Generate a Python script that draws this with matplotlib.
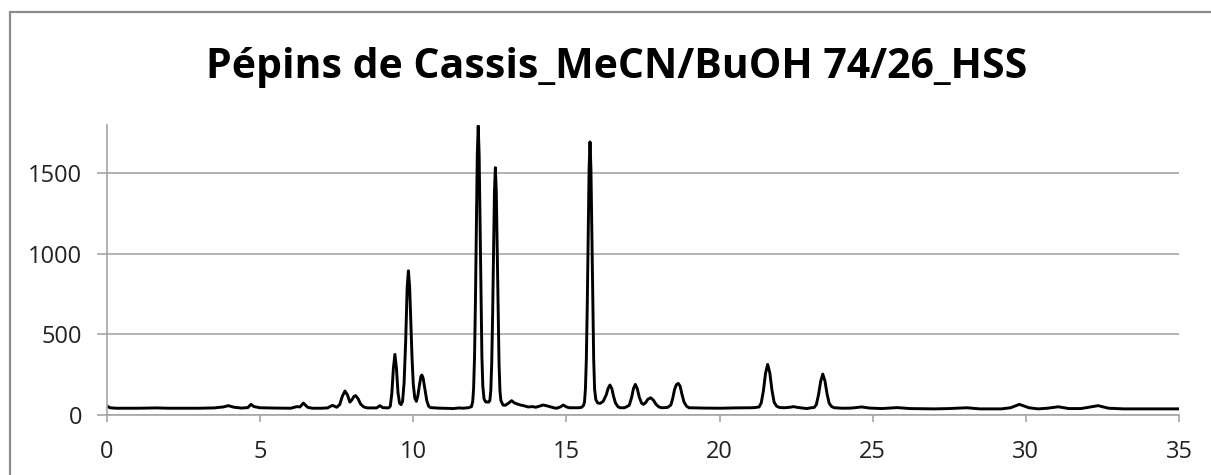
import matplotlib.pyplot as plt
from matplotlib.patches import Rectangle

temps = [0.0, 0.1, 0.3, 1.0, 1.6, 2.0, 3.0, 3.5, 3.8, 3.96, 4.15, 4.4, 4.6, 4.7, 4.8, 5.0,
         5.5, 6.0, 6.2, 6.3, 6.41, 6.55, 6.7, 7.0, 7.2, 7.36, 7.5,
         7.6, 7.68, 7.77, 7.85, 7.93, 8.0, 8.06, 8.12, 8.2, 8.28, 8.38, 8.5, 8.8, 8.91, 9.0, 9.15,
         9.2, 9.25, 9.3, 9.35, 9.4, 9.45, 9.5, 9.55, 9.6, 9.65, 9.7, 9.75, 9.8, 9.84, 9.88, 9.92,
         9.96, 10.0, 10.05, 10.1, 10.15, 10.2, 10.25, 10.28, 10.32, 10.38, 10.44, 10.5, 10.56,
         10.8, 11.0, 11.3, 11.5, 11.6, 11.8, 11.9, 11.94, 11.97, 12.0, 12.03, 12.06, 12.09, 12.12,
         12.15, 12.18, 12.21, 12.24, 12.27, 12.31, 12.36, 12.41, 12.46, 12.5, 12.53, 12.56, 12.59,
         12.62, 12.65, 12.68, 12.71, 12.74, 12.77, 12.8, 12.83, 12.86, 12.93, 13.0, 13.1, 13.21,
         13.3, 13.4, 13.5, 13.6, 13.75, 13.9, 14.0, 14.24, 14.4, 14.6, 14.68, 14.8, 14.9, 15.0,
         15.1, 15.4, 15.5, 15.56, 15.59, 15.62, 15.65, 15.68, 15.71, 15.74, 15.77, 15.8, 15.83,
         15.86, 15.89, 15.92, 15.96, 16.02, 16.1, 16.2, 16.3, 16.36, 16.42, 16.48, 16.54, 16.6,
         16.68, 16.75, 16.9, 17.05, 17.13, 17.19, 17.25, 17.31, 17.38, 17.45, 17.51, 17.58, 17.66,
         17.75, 17.84, 17.93, 18.02, 18.11, 18.3, 18.41, 18.47, 18.53, 18.59, 18.65, 18.71, 18.77,
         18.84, 18.92, 19.0, 19.5, 20.0, 20.5, 21.0, 21.15, 21.29, 21.36, 21.43, 21.5, 21.57,
         21.64, 21.71, 21.78, 21.86, 21.95, 22.1, 22.3, 22.41, 22.55, 22.84, 23.0, 23.09, 23.16,
         23.23, 23.3, 23.37, 23.44, 23.51, 23.58, 23.66, 23.75, 24.0, 24.3, 24.64, 24.9, 25.3,
         25.8, 26.2, 27.0, 27.5, 28.07, 28.5, 29.2, 29.5, 29.79, 30.1, 30.4, 30.7, 31.06, 31.4,
         31.8, 32.36, 32.7, 33.2, 34.0, 35.0]
signal = [55, 45, 42, 42, 44, 42, 42, 44, 50, 58, 48, 43, 46, 66, 52, 45,
          43, 42, 52, 50, 74, 48, 42, 42, 44, 60, 48,
          65, 115, 149, 125, 80, 95, 115, 120, 100, 68, 50, 44, 44, 58, 46, 44,
          45, 55, 135, 290, 376, 290, 140, 75, 64, 85, 200, 450, 790, 895, 800, 580,
          350, 190, 105, 85, 120, 185, 240, 248, 230, 160, 90, 55, 46,
          43, 42, 40, 44, 42, 45, 52, 83, 167, 364, 716, 1188, 1618, 1795,
          1618, 1188, 716, 364, 180, 100, 82, 80, 80, 90, 149, 316, 616,
          1018, 1385, 1535, 1385, 1018, 616, 316, 149, 90, 62, 60, 72, 89,
          75, 68, 62, 58, 50, 52, 48, 62, 55, 44, 42, 50, 62, 50,
          45, 45, 48, 60, 81, 160, 345, 677, 1122, 1528, 1695, 1528, 1122,
          677, 345, 160, 95, 75, 72, 85, 125, 165, 186, 165, 115, 75,
          52, 45, 45, 60, 110, 165, 190, 165, 110, 75, 66, 75, 98,
          107, 92, 65, 50, 45, 47, 62, 103, 158, 188, 196, 180, 130,
          80, 55, 45, 43, 42, 44, 45, 46, 50, 75, 148, 258, 314,
          262, 155, 80, 55, 47, 45, 48, 52, 47, 40, 45, 47, 65,
          125, 208, 254, 212, 130, 72, 52, 45, 42, 43, 50, 43, 40,
          46, 40, 38, 40, 45, 38, 38, 45, 66, 45, 38, 42, 51, 40,
          40, 58, 42, 38, 38, 38]

titre = "Pépins de Cassis_MeCN/BuOH 74/26_HSS"
graduations_x = [0, 5, 10, 15, 20, 25, 30, 35]
graduations_y = [0, 500, 1000, 1500]

gris = '#a6a6a6'
police = ['Open Sans', 'DejaVu Sans']

fig = plt.figure(figsize=(12.11, 4.75), dpi=100)
ax = fig.add_axes([107 / 1211, 1 - 415 / 475, 1072 / 1211, 290 / 475])

ax.plot(temps, signal, color='black', lw=2.1, solid_joinstyle='round')

ax.set_xlim(0, 35)
ax.set_ylim(0, 1800)
ax.set_xticks(graduations_x)
ax.set_yticks(graduations_y)
ax.grid(axis='y', color=gris, lw=1.2)
ax.set_axisbelow(True)

for s in ['top', 'right']:
    ax.spines[s].set_visible(False)
for s in ['left', 'bottom']:
    ax.spines[s].set_color(gris)
    ax.spines[s].set_linewidth(1.2)

ax.tick_params(axis='x', length=5, width=1.2, color=gris, pad=13, labelsize=17, labelcolor='#222222')
ax.tick_params(axis='y', length=7, width=1.2, color=gris, pad=11, labelsize=17, labelcolor='#222222')
for lab in ax.get_xticklabels() + ax.get_yticklabels():
    lab.set_family(police)

fig.text(617 / 1211, 1 - 78 / 475, titre, ha='center', va='baseline',
         fontsize=29.5, fontweight='bold', family=police, color='black')

# cadre de la zone de graphique
fig.patches.append(Rectangle((10 / 1211, -0.2), 1.2, 1.2 - 12 / 475, transform=fig.transFigure,
                             fill=False, edgecolor='#8c8c8c', lw=1.6))

fig.savefig('out.png', dpi=100)
